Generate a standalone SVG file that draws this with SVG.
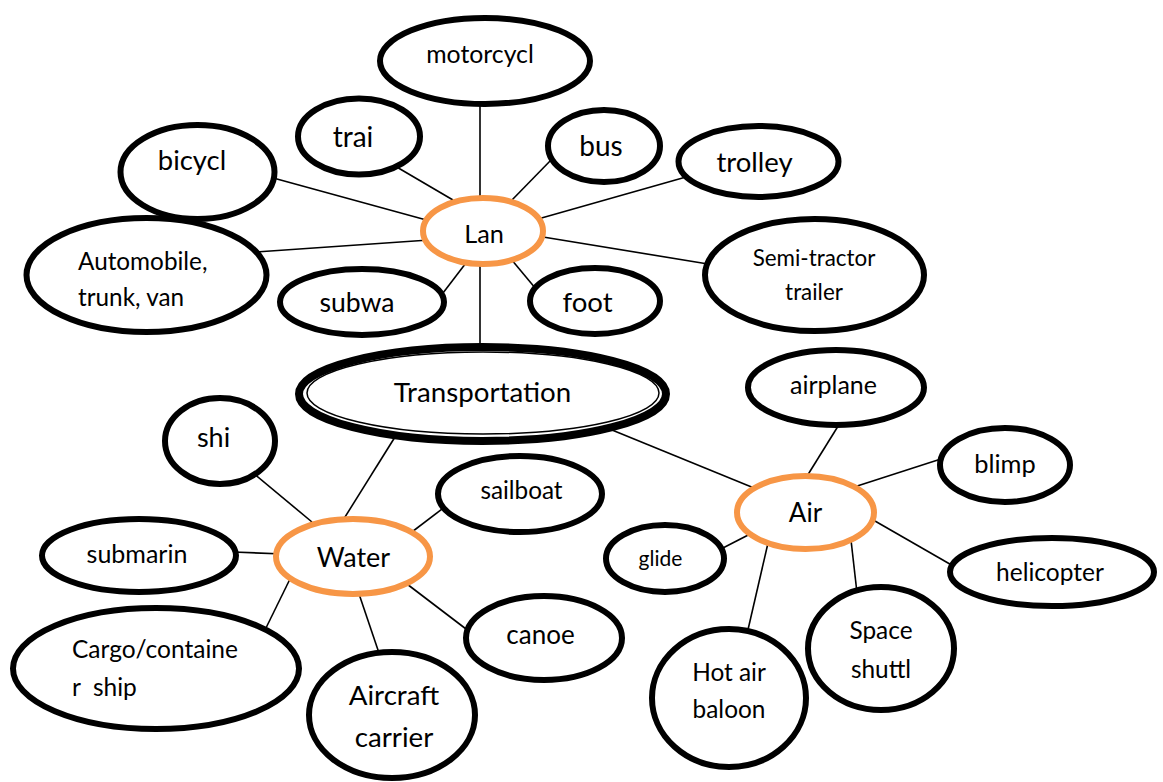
<svg xmlns="http://www.w3.org/2000/svg" width="1163" height="782" viewBox="0 0 1163 782">
<style>
.n{fill:#fff;stroke:#000;stroke-width:6}
.h{fill:#fff;stroke:#F79646;stroke-width:6}
.c line{stroke:#000;stroke-width:1.6}
text{font-family:Lato,"Open Sans","Liberation Sans",sans-serif;fill:#000;text-anchor:middle}
.l{text-anchor:start}
</style>
<rect width="1163" height="782" fill="#fff"/>
<g class="c" id="connectors">
<line x1="480" y1="100" x2="480" y2="204"/>
<line x1="480" y1="258" x2="480" y2="366"/>
<line x1="395" y1="166" x2="453" y2="200"/>
<line x1="266" y1="176" x2="430" y2="221"/>
<line x1="256" y1="252" x2="429" y2="240"/>
<line x1="552" y1="159" x2="511" y2="201"/>
<line x1="686" y1="177" x2="538" y2="219"/>
<line x1="537" y1="236" x2="708" y2="264"/>
<line x1="511" y1="259" x2="536" y2="289"/>
<line x1="469" y1="259" x2="443" y2="293"/>
<line x1="395" y1="437" x2="340" y2="525"/>
<line x1="253" y1="473" x2="312" y2="522"/>
<line x1="233" y1="552" x2="283" y2="554"/>
<line x1="264" y1="632" x2="290" y2="579"/>
<line x1="357" y1="588" x2="380" y2="656"/>
<line x1="403" y1="581" x2="470" y2="632"/>
<line x1="404" y1="538" x2="446" y2="506"/>
<line x1="612" y1="430" x2="754" y2="488"/>
<line x1="840" y1="423" x2="804" y2="481"/>
<line x1="944" y1="458" x2="851" y2="488"/>
<line x1="955" y1="567" x2="868" y2="517"/>
<line x1="857" y1="593" x2="851" y2="540"/>
<line x1="721" y1="549" x2="754" y2="532"/>
<line x1="768" y1="543" x2="747" y2="634"/>
</g>
<g id="motorcycl"><ellipse class="n" cx="485" cy="61" rx="105" ry="43"/><text x="480" y="63" font-size="24.8">motorcycl</text></g>
<g id="trai"><ellipse class="n" cx="359" cy="136.5" rx="61" ry="38"/><text x="353" y="147" font-size="28">trai</text></g>
<g id="bicycl"><ellipse class="n" cx="197.5" cy="172" rx="77" ry="47"/><text x="192" y="170" font-size="27.4">bicycl</text></g>
<g id="bus"><ellipse class="n" cx="604" cy="146" rx="56" ry="36"/><text x="601" y="156" font-size="28">bus</text></g>
<g id="trolley"><ellipse class="n" cx="758.5" cy="161.5" rx="80" ry="35.5"/><text x="754.5" y="172" font-size="27.5">trolley</text></g>
<g id="automobile"><ellipse class="n" cx="146.5" cy="275" rx="120" ry="57"/><text class="l" x="78" y="270" font-size="24.3">Automobile,</text><text class="l" x="78" y="306" font-size="24.3">trunk, van</text></g>
<g id="subwa"><ellipse class="n" cx="362" cy="302" rx="82" ry="33"/><text x="357" y="312" font-size="26.6">subwa</text></g>
<g id="foot"><ellipse class="n" cx="595" cy="301" rx="65" ry="33"/><text x="587.5" y="312" font-size="27.6">foot</text></g>
<g id="semi"><ellipse class="n" cx="814.5" cy="275" rx="109.5" ry="56"/><text x="814" y="266" font-size="22.4">Semi-tractor</text><text x="814" y="300" font-size="22.4">trailer</text></g>
<g id="land"><ellipse class="h" cx="483" cy="231" rx="60" ry="33"/><text x="484" y="243" font-size="25.3">Lan</text></g>
<g id="transportation"><ellipse cx="482.5" cy="394" rx="183.5" ry="47" fill="#fff" stroke="#000" stroke-width="8"/><ellipse cx="483" cy="393" rx="176" ry="41" fill="none" stroke="#000" stroke-width="1.5"/><text x="482.5" y="402" font-size="27.7">Transportation</text></g>
<g id="water"><ellipse class="h" cx="353" cy="556.5" rx="77" ry="37.5"/><text x="353.5" y="567" font-size="27">Water</text></g>
<g id="shi"><ellipse class="n" cx="220" cy="441" rx="55" ry="43"/><text x="213.5" y="447" font-size="27">shi</text></g>
<g id="submarin"><ellipse class="n" cx="139" cy="555.5" rx="97" ry="36.5"/><text x="137" y="563" font-size="25">submarin</text></g>
<g id="sailboat"><ellipse class="n" cx="520" cy="494" rx="82" ry="38"/><text x="521.5" y="499" font-size="24.3">sailboat</text></g>
<g id="cargo"><ellipse class="n" cx="156" cy="668.5" rx="143" ry="60.5"/><text class="l" x="72" y="658" font-size="24.5">Cargo/containe</text><text class="l" x="72" y="696" font-size="24.5" xml:space="preserve">r  ship</text></g>
<g id="aircraftcarrier"><ellipse class="n" cx="392" cy="715" rx="83" ry="63"/><text x="394" y="705" font-size="27.7">Aircraft</text><text x="394" y="747" font-size="27.7">carrier</text></g>
<g id="canoe"><ellipse class="n" cx="544" cy="638" rx="78" ry="42"/><text x="540.5" y="644" font-size="26">canoe</text></g>
<g id="air"><ellipse class="h" cx="805.5" cy="512.5" rx="68.5" ry="36.5"/><text x="805.5" y="522" font-size="26">Air</text></g>
<g id="airplane"><ellipse class="n" cx="836" cy="387.5" rx="88" ry="37.5"/><text x="833.5" y="394" font-size="25">airplane</text></g>
<g id="blimp"><ellipse class="n" cx="1005" cy="465" rx="65" ry="37"/><text x="1005" y="473" font-size="25.4">blimp</text></g>
<g id="helicopter"><ellipse class="n" cx="1052" cy="572" rx="102" ry="34"/><text x="1050" y="581" font-size="24.5">helicopter</text></g>
<g id="glide"><ellipse class="n" cx="665" cy="558.5" rx="59" ry="33.5"/><text x="660.5" y="566" font-size="21">glide</text></g>
<g id="hotairbaloon"><ellipse class="n" cx="729" cy="698" rx="77" ry="69"/><text x="729" y="681" font-size="24.4">Hot air</text><text x="729" y="718" font-size="24.4">baloon</text></g>
<g id="spaceshuttl"><ellipse class="n" cx="881" cy="648.5" rx="73" ry="61.5"/><text x="881" y="639" font-size="24.4">Space</text><text x="881" y="678" font-size="24.4">shuttl</text></g>
</svg>
